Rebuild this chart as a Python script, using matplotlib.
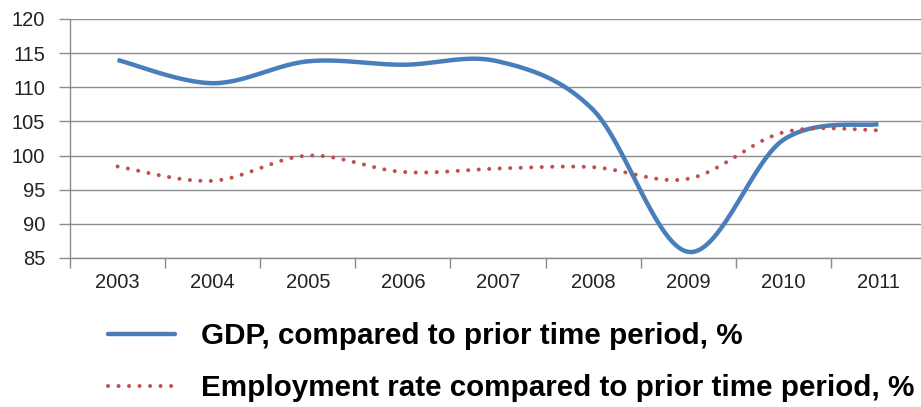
import numpy as np
import matplotlib
matplotlib.use("Agg")
import matplotlib.pyplot as plt
from matplotlib.lines import Line2D

years = ["2003", "2004", "2005", "2006", "2007", "2008", "2009", "2010", "2011"]
gdp = [114.0, 110.6, 113.8, 113.3, 113.8, 106.7, 85.9, 102.3, 104.6]
employment = [98.4, 96.3, 100.0, 97.6, 98.1, 98.3, 96.6, 103.4, 103.7]

gdp_label = "GDP, compared to prior time period, %"
emp_label = "Employment rate compared to prior time period, %"

blue = "#4a7ebb"
red = "#c0504d"
grid_gray = "#8c8c8c"


def smooth(xs, ys, n=40):
    # Catmull-Rom spline through the points (like a "smoothed line" chart)
    xs = np.asarray(xs, float)
    ys = np.asarray(ys, float)
    px = np.concatenate([[xs[0]], xs, [xs[-1]]])
    py = np.concatenate([[ys[0]], ys, [ys[-1]]])
    out_x, out_y = [], []
    for i in range(1, len(px) - 2):
        t = np.linspace(0, 1, n, endpoint=False)
        p0x, p1x, p2x, p3x = px[i - 1], px[i], px[i + 1], px[i + 2]
        p0y, p1y, p2y, p3y = py[i - 1], py[i], py[i + 1], py[i + 2]
        c1x, c1y = p1x + (p2x - p0x) / 6, p1y + (p2y - p0y) / 6
        c2x, c2y = p2x - (p3x - p1x) / 6, p2y - (p3y - p1y) / 6
        b = lambda a, c, d, e: ((1 - t) ** 3 * a + 3 * (1 - t) ** 2 * t * c
                                + 3 * (1 - t) * t ** 2 * d + t ** 3 * e)
        out_x.extend(b(p1x, c1x, c2x, p2x))
        out_y.extend(b(p1y, c1y, c2y, p2y))
    out_x.append(xs[-1])
    out_y.append(ys[-1])
    return np.array(out_x), np.array(out_y)


plt.rcParams['font.family'] = ['Liberation Sans', 'DejaVu Sans']

fig = plt.figure(figsize=(9.21, 4.07), dpi=100)
ax = fig.add_axes([70 / 921, 149 / 407, 856 / 921, 239 / 407])

x = np.arange(len(years))
sx, sy = smooth(x, gdp)
ax.plot(sx, sy, color=blue, lw=3.2, solid_capstyle='butt')
ex, ey = smooth(x, employment)
ax.plot(ex, ey, color=red, lw=2.9, linestyle=(0, (0.01, 2.6)),
        dash_capstyle='round')

ax.set_ylim(85, 120)
ax.set_yticks(np.arange(85, 121, 5))
ax.set_xlim(-0.5, len(years) - 0.5)
ax.set_xticks(x)
ax.set_xticklabels(years)
ax.set_xticks(np.arange(-0.5, len(years), 1), minor=True)
ax.tick_params(axis='x', which='major', length=0, pad=11, labelsize=14.5,
               labelcolor='#222222')
ax.tick_params(axis='x', which='minor', length=7, width=1, color=grid_gray,
               direction='out')
ax.tick_params(axis='y', length=8, width=1, color=grid_gray, pad=10,
               labelsize=14.5, labelcolor='#222222')

ax.grid(axis='y', color=grid_gray, lw=1)
ax.set_axisbelow(True)
for side in ['top', 'right']:
    ax.spines[side].set_visible(False)
for side in ['left', 'bottom']:
    ax.spines[side].set_color(grid_gray)
    ax.spines[side].set_linewidth(1)

handles = [
    Line2D([], [], color=blue, lw=3.2, solid_capstyle='round'),
    Line2D([], [], color=red, lw=2.9, linestyle=(0, (0.01, 2.6)),
           dash_capstyle='round'),
]
fig.legend(handles, [gdp_label, emp_label], loc='upper left',
           bbox_to_anchor=(108 / 921, 1 - 322 / 407), frameon=False,
           prop={'size': 21.3, 'weight': 'bold'}, handlelength=2.25,
           handletextpad=0.9, labelspacing=0.82, borderpad=0,
           borderaxespad=0)

fig.savefig("out.png", dpi=100)
